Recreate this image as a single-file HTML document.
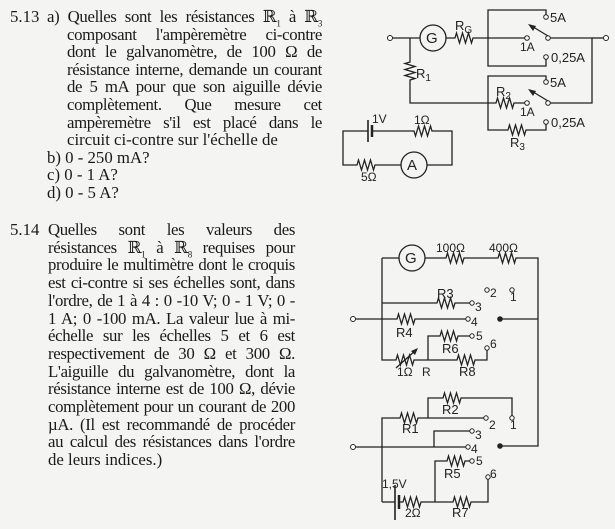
<!DOCTYPE html>
<html><head><meta charset="utf-8"><style>
html,body{margin:0;padding:0;background:#f4f4f2;}
body{width:615px;height:529px;position:relative;overflow:hidden;font-family:"Liberation Serif","DejaVu Serif",serif;color:#1a1a1a;font-size:16.8px;}
.l{position:absolute;white-space:nowrap;line-height:18px;height:18px;}
.j{text-align:justify;text-align-last:justify;white-space:nowrap;letter-spacing:-0.35px;}
svg{position:absolute;left:0;top:0;}
svg text{font-family:"Liberation Sans","DejaVu Sans",sans-serif;font-size:12px;fill:#222;}
</style></head><body>
<div class="l" style="left:10px;top:8px">5.13</div>
<div class="l j" style="left:47px;top:8px;width:275px">a) Quelles sont les résistances ℝ<sub style="font-size:9px">1</sub> à ℝ<sub style="font-size:9px">3</sub></div>
<div class="l j" style="left:67px;top:25.6px;width:255px">composant l'ampèremètre ci-contre</div>
<div class="l j" style="left:67px;top:43.2px;width:255px">dont le galvanomètre, de 100 Ω de</div>
<div class="l j" style="left:67px;top:60.8px;width:255px">résistance interne, demande un courant</div>
<div class="l j" style="left:67px;top:78.4px;width:255px">de 5 mA pour que son aiguille dévie</div>
<div class="l j" style="left:67px;top:96px;width:255px">complètement. Que mesure cet</div>
<div class="l j" style="left:67px;top:113.6px;width:255px">ampèremètre s'il est placé dans le</div>
<div class="l" style="left:67px;top:131.2px">circuit ci-contre sur l'échelle de</div>
<div class="l" style="left:47px;top:148.8px">b) 0 - 250 mA?</div>
<div class="l" style="left:47px;top:166.4px">c) 0 - 1 A?</div>
<div class="l" style="left:47px;top:184px">d) 0 - 5 A?</div>

<div class="l" style="left:10px;top:221px">5.14</div>
<div class="l j" style="left:48px;top:221px;width:247px">Quelles sont les valeurs des</div>
<div class="l j" style="left:48px;top:238.7px;width:247px">résistances ℝ<sub style="font-size:9px">1</sub> à ℝ<sub style="font-size:9px">8</sub> requises pour</div>
<div class="l j" style="left:48px;top:256.4px;width:247px">produire le multimètre dont le croquis</div>
<div class="l j" style="left:48px;top:274.1px;width:247px">est ci-contre si ses échelles sont, dans</div>
<div class="l j" style="left:48px;top:291.8px;width:247px">l'ordre, de 1 à 4 : 0 -10 V; 0 - 1 V; 0 -</div>
<div class="l j" style="left:48px;top:309.5px;width:247px">1 A; 0 -100 mA. La valeur lue à mi-</div>
<div class="l j" style="left:48px;top:327.2px;width:247px">échelle sur les échelles 5 et 6 est</div>
<div class="l j" style="left:48px;top:344.9px;width:247px">respectivement de 30 Ω et 300 Ω.</div>
<div class="l j" style="left:48px;top:362.6px;width:247px">L'aiguille du galvanomètre, dont la</div>
<div class="l j" style="left:48px;top:380.3px;width:247px">résistance interne est de 100 Ω, dévie</div>
<div class="l j" style="left:48px;top:398px;width:247px">complètement pour un courant de 200</div>
<div class="l j" style="left:48px;top:415.7px;width:247px">µA. (Il est recommandé de procéder</div>
<div class="l j" style="left:48px;top:433.4px;width:247px">au calcul des résistances dans l'ordre</div>
<div class="l" style="left:48px;top:451px">de leurs indices.)</div>

<svg width="615" height="529" viewBox="0 0 615 529">
<g fill="none" stroke="#222" stroke-width="1.3">
<path d="M392,38 H420"/>
<circle cx="433" cy="38" r="13"/>
<path d="M446,38 H455 l1.5,-5 l3,10 l3,-10 l3,10 l3,-10 l3,10 l1.5,-5 H525"/>
<path d="M410,38 V62 l-5,1.5 l10,3 l-10,3 l10,3 l-10,3 l10,3 l-5,1.5 V103 H496 l1.5,-5 l3,10 l3,-10 l3,10 l3,-10 l3,10 l1.5,-5 H525"/>
<path d="M488,38 V10 H546 V15"/>
<path d="M488,38 V66 H546 V59"/>
<path d="M488,103 V76 H546 V80"/>
<path d="M488,103 V130 H508 l1.5,-5 l3,10 l3,-10 l3,10 l3,-10 l3,10 l1.5,-5 H546 V124"/>
<path d="M550,38 H592 V103 H550"/>
<path d="M592,38 H603"/>
<path d="M548,36 L530,25"/>
<path d="M548,101 L530,90"/>
<path d="M368,131 H343 V165 H357 l1.5,-5 l3,10 l3,-10 l3,10 l3,-10 l3,10 l1.5,-5 H401"/>
<circle cx="414" cy="165" r="13"/>
<path d="M427,165 H452 V131 H432 l-1.5,-5 l-3,10 l-3,-10 l-3,10 l-3,-10 l-3,10 l-1.5,-5 H372"/>
<path d="M368,120 V142" stroke-width="1.6"/>
<path d="M372,125 V137" stroke-width="2.5"/>
<path d="M382,258 H399"/>
<circle cx="412" cy="258" r="13"/>
<path d="M425,258 H446 l1.5,-5 l3,10 l3,-10 l3,10 l3,-10 l3,10 l1.5,-5 H498 l1.5,-5 l3,10 l3,-10 l3,10 l3,-10 l3,10 l1.5,-5 H538 V446 H500"/>
<path d="M382,258 V360 H396 l1.5,-5 l3,10 l3,-10 l3,10 l3,-10 l3,10 l1.5,-5 H457 l1.5,-5 l3,10 l3,-10 l3,10 l3,-10 l3,10 l1.5,-5 H487 V350"/>
<path d="M396,368 L416,350"/>
<path d="M382,303 H437 l1.5,-5 l3,10 l3,-10 l3,10 l3,-10 l3,10 l1.5,-5 H470"/>
<path d="M356,319 H397 l1.5,-5 l3,10 l3,-10 l3,10 l3,-10 l3,10 l1.5,-5 H466"/>
<path d="M500,319 H538"/>
<path d="M428,360 V336 H440 l1.5,-5 l3,10 l3,-10 l3,10 l3,-10 l3,10 l1.5,-5 H470"/>
<path d="M382,502 V418 H400 l1.5,-5 l3,10 l3,-10 l3,10 l3,-10 l3,10 l1.5,-5 H484"/>
<path d="M428,418 V398 H443 l1.5,-5 l3,10 l3,-10 l3,10 l3,-10 l3,10 l1.5,-5 H512 V416"/>
<path d="M434,447 V431 H470"/>
<path d="M356,447 H466"/>
<path d="M435,502 V461 H447 l1.5,-5 l3,10 l3,-10 l3,10 l3,-10 l3,10 l1.5,-5 H470"/>
<path d="M382,502 H395"/>
<path d="M395,485 V520" stroke-width="1.6"/>
<path d="M399,495 V509" stroke-width="2.5"/>
<path d="M399,502 H403 l1.5,-5 l3,10 l3,-10 l3,10 l3,-10 l3,10 l1.5,-5 H453 l1.5,-5 l3,10 l3,-10 l3,10 l3,-10 l3,10 l1.5,-5 H488 V479"/>
</g>
<path d="M528,24 L536,26 L533,31 Z" fill="#222"/>
<path d="M528,89 L536,91 L533,96 Z" fill="#222"/>
<path d="M418,348 L411,351 L415,355 Z" fill="#222"/>
<g fill="#fff" stroke="#222" stroke-width="1">
<circle cx="390" cy="38" r="2.5"/><circle cx="606" cy="38" r="2.5"/>
<circle cx="546" cy="17" r="2.3"/><circle cx="527" cy="38" r="2.3"/><circle cx="548" cy="38" r="2.3"/><circle cx="546" cy="57" r="2.3"/>
<circle cx="546" cy="82" r="2.3"/><circle cx="527" cy="103" r="2.3"/><circle cx="548" cy="103" r="2.3"/><circle cx="546" cy="122" r="2.3"/>
<circle cx="353" cy="319" r="2.5"/><circle cx="353" cy="447" r="2.5"/>
<circle cx="487" cy="290" r="2.2"/><circle cx="512" cy="290" r="2.2"/><circle cx="472" cy="303" r="2.2"/><circle cx="468" cy="319" r="2.2"/><circle cx="472" cy="336" r="2.2"/><circle cx="487" cy="348" r="2.2"/>
<circle cx="486" cy="418" r="2.2"/><circle cx="512" cy="418" r="2.2"/><circle cx="472" cy="431" r="2.2"/><circle cx="468" cy="447" r="2.2"/><circle cx="472" cy="461" r="2.2"/><circle cx="488" cy="477" r="2.2"/>
</g>
<circle cx="500" cy="319" r="2.8" fill="#222"/><circle cx="500" cy="446" r="2.8" fill="#222"/>
<text x="426" y="43" style="font-size:15px">G</text>
<text x="455" y="30" style="font-size:13px">R<tspan style="font-size:10px" dy="3">G</tspan></text>
<text x="416" y="78" style="font-size:13px">R<tspan style="font-size:10px" dy="3">1</tspan></text>
<text x="550" y="22" style="font-size:13px">5A</text><text x="520" y="51">1A</text><text x="551" y="62" style="font-size:13px">0,25A</text>
<text x="550" y="87" style="font-size:13px">5A</text><text x="520" y="116">1A</text><text x="551" y="127" style="font-size:13px">0,25A</text>
<text x="496" y="96" style="font-size:13px">R<tspan style="font-size:10px" dy="3">2</tspan></text>
<text x="510" y="147" style="font-size:13px">R<tspan style="font-size:10px" dy="3">3</tspan></text>
<text x="372" y="123">1V</text><text x="414" y="124">1Ω</text>
<text x="407" y="170" style="font-size:15px">A</text><text x="361" y="181">5Ω</text>
<text x="405" y="263" style="font-size:15px">G</text>
<text x="436" y="252">100Ω</text><text x="489" y="252">400Ω</text>
<text x="437" y="298" style="font-size:13px">R3</text><text x="475" y="311">3</text>
<text x="490" y="297">2</text><text x="510" y="301">1</text>
<text x="396" y="337" style="font-size:13px">R4</text><text x="471" y="326">4</text>
<text x="476" y="340">5</text><text x="442" y="353" style="font-size:13px">R6</text><text x="490" y="348">6</text>
<text x="397" y="376">1Ω</text><text x="422" y="376">R</text><text x="459" y="376" style="font-size:13px">R8</text>
<text x="442" y="414" style="font-size:13px">R2</text><text x="402" y="433" style="font-size:13px">R1</text>
<text x="489" y="429">2</text><text x="510" y="429">1</text>
<text x="475" y="439">3</text><text x="471" y="453">4</text>
<text x="476" y="465">5</text><text x="444" y="478" style="font-size:13px">R5</text><text x="490" y="478">6</text>
<text x="382" y="488">1,5V</text>
<text x="405" y="517">2Ω</text><text x="452" y="517" style="font-size:13px">R7</text>
</svg>
</body></html>
